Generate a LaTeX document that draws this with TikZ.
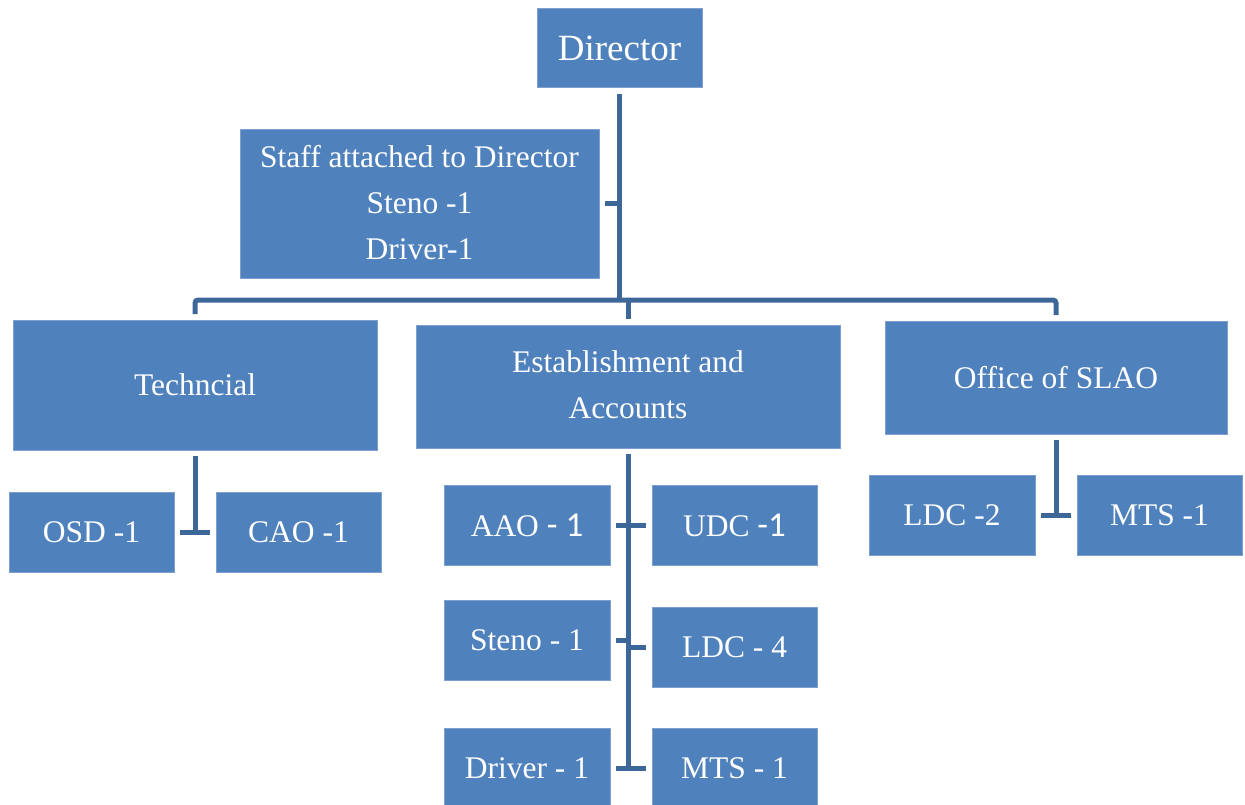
\documentclass[tikz,border=0pt]{standalone}
\usepackage{fontspec}
\setmainfont{Liberation Serif}
\newfontfamily\calib{Carlito}
\usetikzlibrary{positioning}
\definecolor{boxblue}{HTML}{4F81BD}
\definecolor{boxedge}{HTML}{7C9FD0}
\definecolor{linkblue}{HTML}{3D6798}

\begin{document}
\begin{tikzpicture}[
    x=1pt, y=-1pt,
    font=\fontsize{31.5}{46}\selectfont,
    post/.style={
		rectangle,
		draw=boxedge,
		line width=1pt,
		fill=boxblue,
		text=white,
		text centered,
		inner sep=0pt,
		outer sep=6pt,
		minimum width=165pt,
		minimum height=80pt
	},
	link/.style={
		draw=linkblue,
		line width=5pt
	}
  ]
  \useasboundingbox (0,0) rectangle (1245,805);
    % We start by placing the blocks

  \node [post, minimum height=79pt, font=\fontsize{37}{44}\selectfont] (director) at (619.5,48.5) {Director};

  \node [post, minimum width=359pt, minimum height=148pt] (staff) at (419.5,204)
 {%
 \begin{tabular}{c}
  Staff attached to Director\\
  Steno -1\\
  Driver-1
 \end{tabular}
 };

  \node [post, minimum width=364pt, minimum height=130pt] (tech) at (195,385) {Techncial};

  \node [post, minimum width=424pt, minimum height=123pt] (est) at (628,386.5)
 {%
 \begin{tabular}{c}
  Establishment and\\
  Accounts
 \end{tabular}
 };

  \node [post, minimum width=342pt, minimum height=113pt] (slao) at (1056,377.5) {Office of SLAO};

  % second level
  \node [post] (osd) at (91.5,532) {OSD -1};
  \node [post] (cao) at (298.5,532) {CAO -1};

  \node [post, minimum width=166pt] (aao) at (527,525) {AAO {\calib\fontsize{35}{46}\selectfont - 1}};
  \node [post] (udc) at (734.5,525) {UDC {\calib\fontsize{35}{46}\selectfont -1}};
  \node [post, minimum width=166pt] (steno) at (527,640) {Steno - 1};
  \node [post] (ldc) at (734.5,647) {LDC - 4};
  \node [post, minimum width=166pt] (driver) at (527,768) {Driver - 1};
  \node [post] (mts) at (734.5,768) {MTS - 1};

  \node [post, minimum width=166pt] (ldc2) at (952,515) {LDC -2};
  \node [post] (mts2) at (1159.5,515) {MTS -1};

  % connectors
  \coordinate (bus) at (620,300);
  \draw [link] (director.south) -- (director.south |- bus);
  \draw [link] (staff.east) -- (staff.east -| director.south);
  \draw [link, rounded corners=3pt] (tech.north) -- (tech.north |- bus) -- (slao.north |- bus) -- (slao.north);
  \draw [link] (est.north) -- (est.north |- bus);

  \draw [link] (tech.south) -- (tech.south |- osd.east);
  \draw [link] (osd.east) -- (cao.west);

  \draw [link] (est.south) -- (est.south |- driver.east);
  \draw [link] (aao.east) -- (udc.west);
  \draw [link] (steno.east) -- (steno.east -| est.south);
  \draw [link] (ldc.west) -- (ldc.west -| est.south);
  \draw [link] (driver.east) -- (mts.west);

  \draw [link] (slao.south) -- (slao.south |- ldc2.east);
  \draw [link] (ldc2.east) -- (mts2.west);

\end{tikzpicture}
\end{document}
